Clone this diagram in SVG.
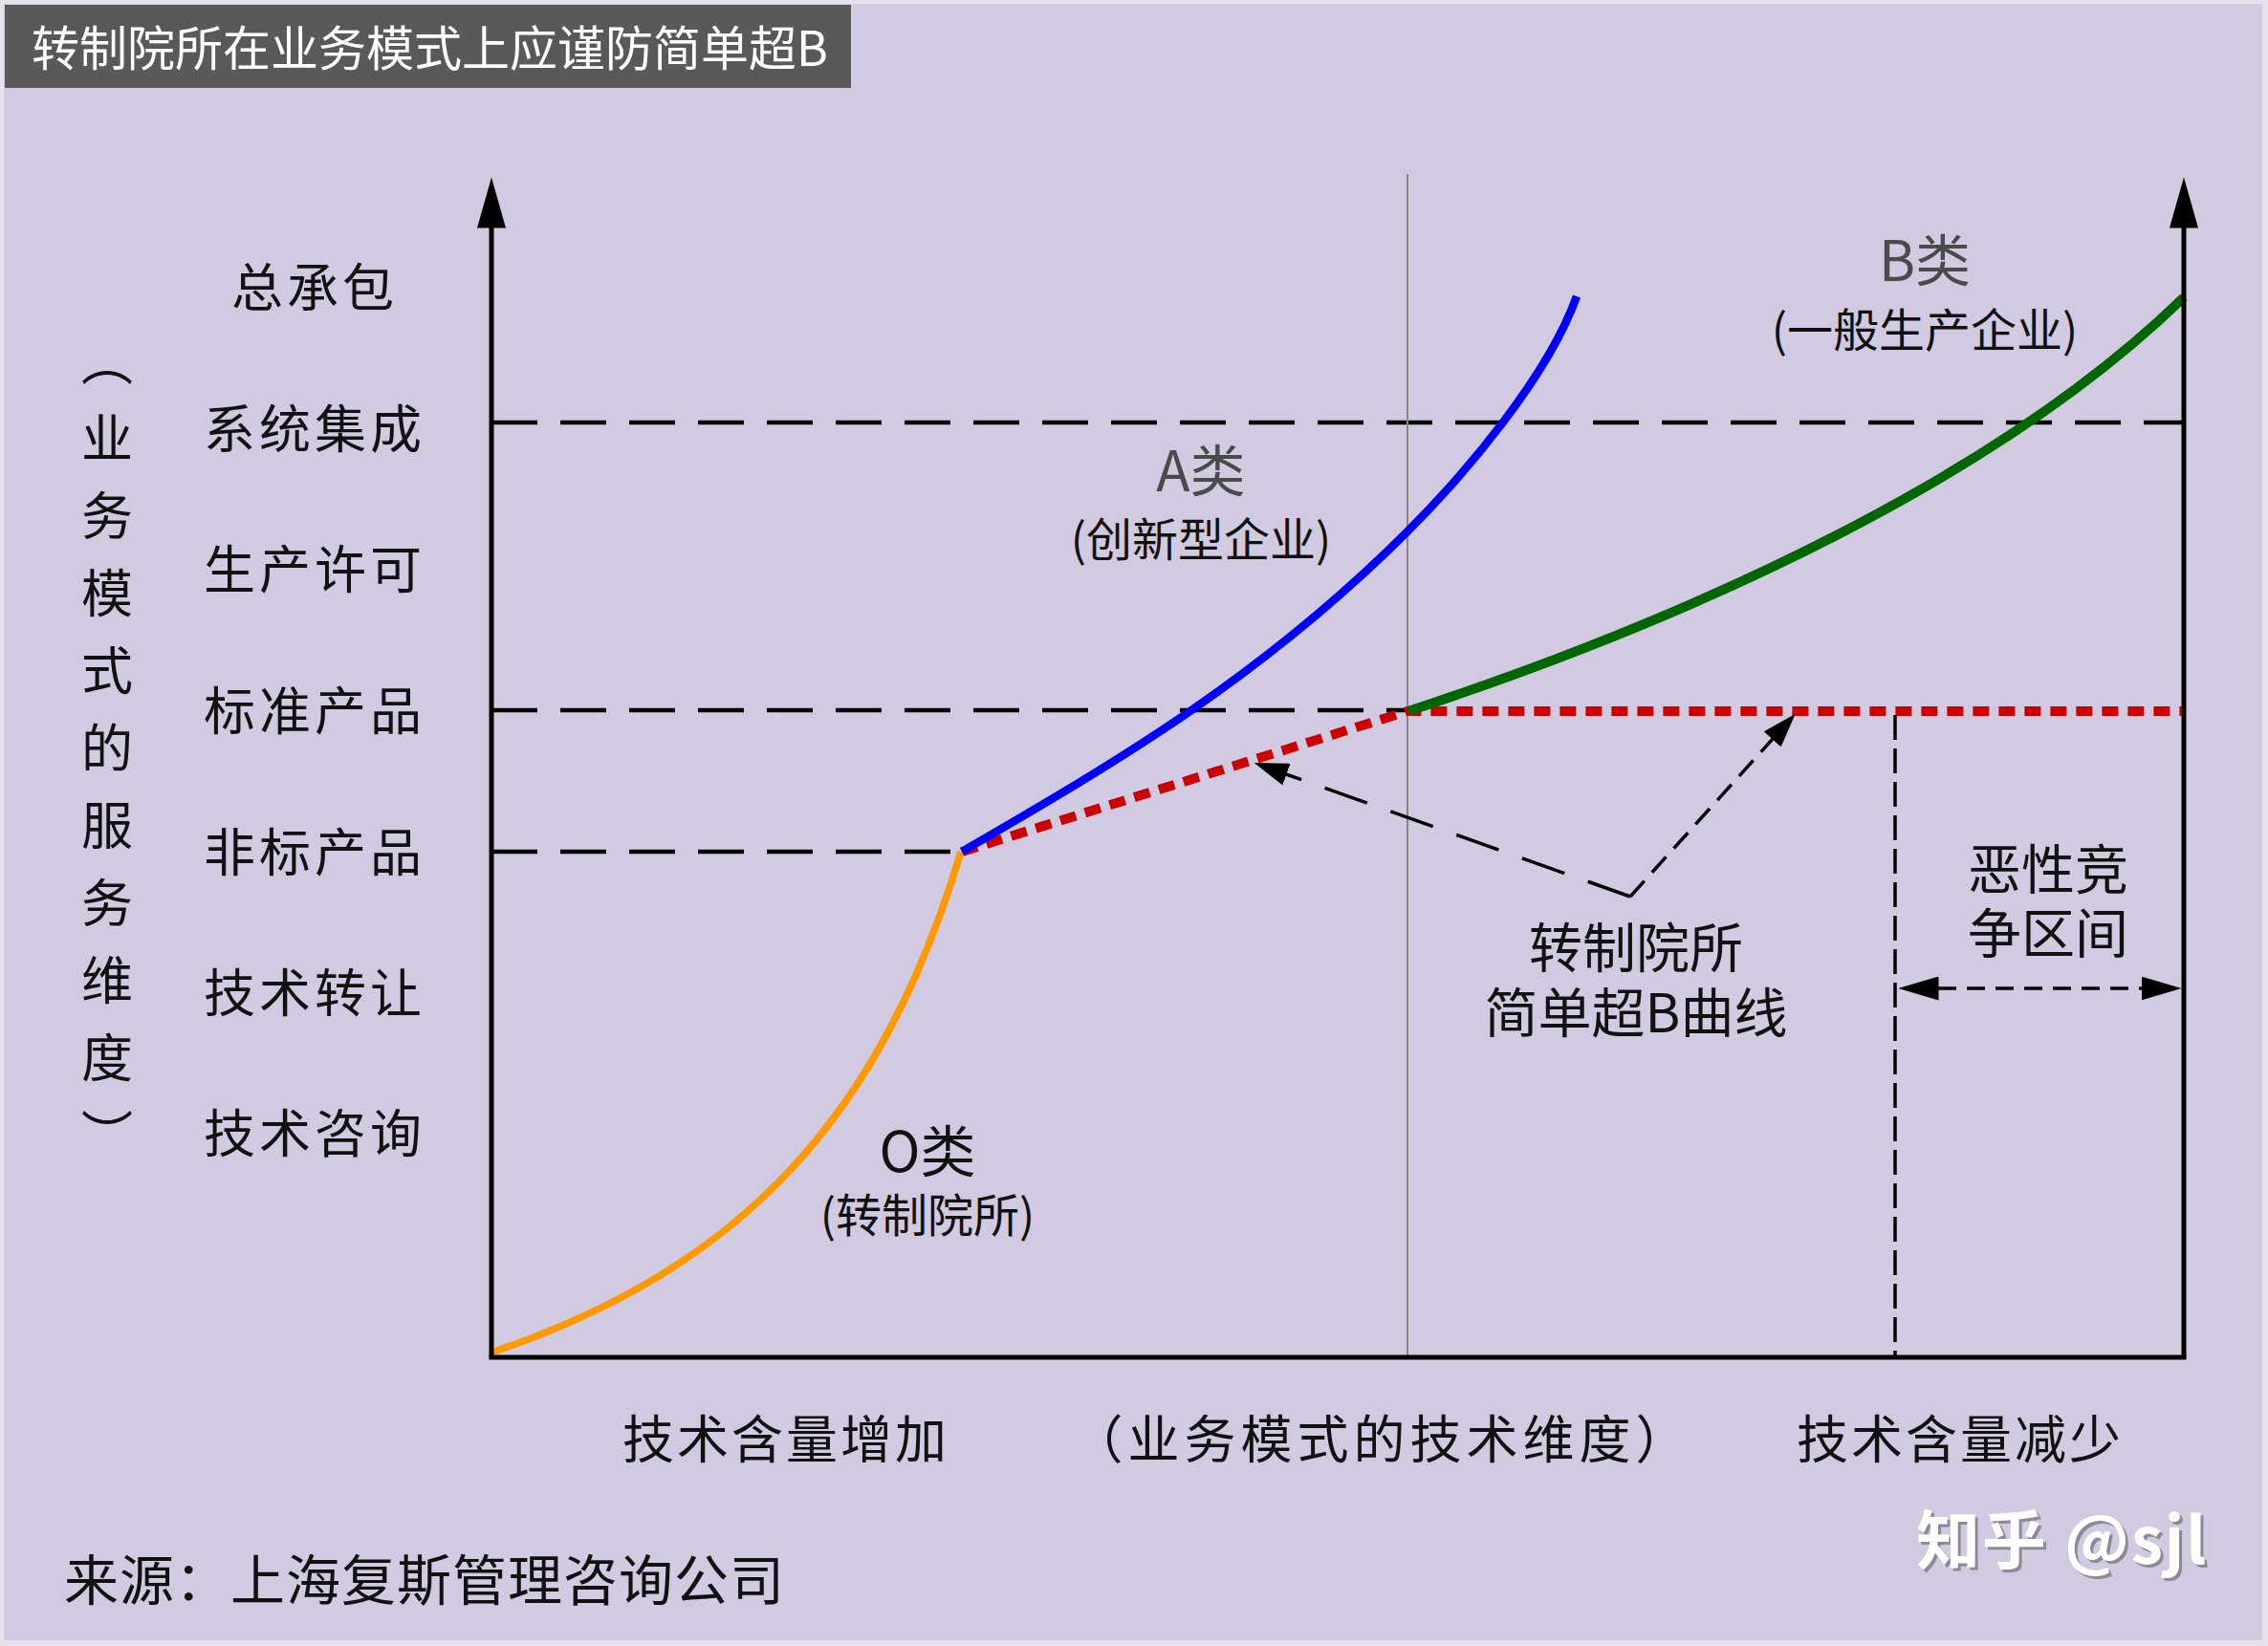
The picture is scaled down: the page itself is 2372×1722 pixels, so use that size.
<svg xmlns="http://www.w3.org/2000/svg" width="2372" height="1722" viewBox="0 0 2372 1722">
<defs>
<style>
text{font-family:"Noto Sans CJK SC","Noto Sans",sans-serif;}
.ylab{font-size:54px;fill:#111;text-anchor:middle;letter-spacing:4px}
.xlab{font-size:54px;fill:#111;text-anchor:middle;letter-spacing:3px}
.cat{font-size:58px;fill:#4a4a4a;text-anchor:middle}
.sub{font-size:48px;fill:#111;text-anchor:middle}
.note{font-size:56px;fill:#111;text-anchor:middle}
.axis{stroke:#000;stroke-width:5;fill:none}
.grid{stroke:#000;stroke-width:4.5;stroke-dasharray:48 24;fill:none}
.curve{fill:none;stroke-linecap:butt}
.ann{stroke:#000;stroke-width:3.5;fill:none}
</style>
<marker id="axArrow" viewBox="0 0 53 30" refX="0.5" refY="15" markerWidth="53" markerHeight="30" markerUnits="userSpaceOnUse" orient="auto">
<path d="M0,0 L53,15 L0,30 Z" fill="#000"/>
</marker>
<marker id="annArrow" viewBox="0 0 36 24" refX="0.5" refY="12" markerWidth="36" markerHeight="24" markerUnits="userSpaceOnUse" orient="auto">
<path d="M0,0 L36,12 L0,24 Z" fill="#000"/>
</marker>
<marker id="dblArrow" viewBox="0 0 42 25" refX="0.5" refY="12.5" markerWidth="42" markerHeight="25" markerUnits="userSpaceOnUse" orient="auto-start-reverse">
<path d="M0,0 L42,12.5 L0,25 Z" fill="#000"/>
</marker>
</defs>

<rect x="0" y="0" width="2372" height="1722" fill="#E6E1EC"/>
<rect x="4" y="4" width="2362" height="1712" fill="#D2CAE0"/>

<g id="title">
<rect x="5" y="5" width="885" height="87" fill="#595959"/>
<text x="33" y="69" font-size="50" fill="#fff">转制院所在业务模式上应谨防简单超B</text>
</g>

<g id="connectors">
<line class="grid" x1="514" y1="442" x2="2284" y2="442"/>
<line class="grid" x1="514" y1="743" x2="1472" y2="743"/>
<line class="grid" x1="514" y1="891" x2="1006" y2="891"/>
<line x1="1472" y1="182" x2="1472" y2="1419" stroke="#868686" stroke-width="2"/>
<line x1="1982" y1="748" x2="1982" y2="1418" stroke="#000" stroke-width="3.5" stroke-dasharray="26 9"/>
<polyline class="curve" points="1006,891 1472,744 2284,744" stroke="#CC0000" stroke-width="10" stroke-dasharray="17 10"/>
<path id="curveO" class="curve" d="M514,1415 C774,1327 921,1171 1005,891" stroke="#FF9900" stroke-width="7.5"/>
<path id="curveA" class="curve" d="M1006,891 C1161,801 1317,711 1472,556 C1532,496 1619,394 1649,310" stroke="#0000FF" stroke-width="8.5"/>
<path id="curveB" class="curve" d="M1473,744 C1773,645 2090,500 2284,311" stroke="#006600" stroke-width="10"/>
<line class="axis" x1="514" y1="1420" x2="514" y2="238" marker-end="url(#axArrow)"/>
<line class="axis" x1="2284" y1="1420" x2="2284" y2="238" marker-end="url(#axArrow)"/>
<line class="axis" x1="511.5" y1="1420" x2="2286.5" y2="1420"/>
<line class="ann" x1="1705" y1="938" x2="1345" y2="810" stroke-dasharray="47 26" marker-end="url(#annArrow)"/>
<line class="ann" x1="1705" y1="938" x2="1854" y2="773" stroke-dasharray="22 12" marker-end="url(#annArrow)"/>
<line class="ann" x1="2027" y1="1034" x2="2240" y2="1034" stroke-dasharray="19 11" marker-start="url(#dblArrow)" marker-end="url(#dblArrow)"/>
</g>

<g id="y-axis-title">
<text x="112" y="350" font-size="54" fill="#111" writing-mode="vertical-rl" letter-spacing="27">（业务模式的服务维度）</text>
</g>

<g id="y-labels">
<text class="ylab" x="329" y="321">总承包</text>
<text class="ylab" x="329" y="469">系统集成</text>
<text class="ylab" x="329" y="616">生产许可</text>
<text class="ylab" x="329" y="764">标准产品</text>
<text class="ylab" x="329" y="912">非标产品</text>
<text class="ylab" x="329" y="1059">技术转让</text>
<text class="ylab" x="329" y="1206">技术咨询</text>
</g>

<g id="node-A">
<text class="cat" x="1256" y="514">A类</text>
<text class="sub" x="1256" y="582">(创新型企业)</text>
</g>

<g id="node-B">
<text class="cat" x="2013" y="294">B类</text>
<text class="sub" x="2013" y="363">(一般生产企业)</text>
</g>

<g id="node-O">
<text class="cat" x="970" y="1226" style="fill:#111">O类</text>
<text class="sub" x="970" y="1289">(转制院所)</text>
</g>

<g id="note-curve">
<text class="note" x="1711" y="1012">转制院所</text>
<text class="note" x="1711" y="1080">简单超B曲线</text>
</g>

<g id="note-competition">
<text class="note" x="2142" y="930">恶性竞</text>
<text class="note" x="2142" y="997">争区间</text>
</g>

<g id="x-labels">
<text class="xlab" x="822" y="1526">技术含量增加</text>
<text class="xlab" x="1445" y="1526" style="letter-spacing:5px">（业务模式的技术维度）</text>
<text class="xlab" x="2050" y="1526">技术含量减少</text>
</g>

<g id="source">
<text x="67" y="1674" font-size="57" fill="#111" letter-spacing="1">来源：上海复斯管理咨询公司</text>
</g>

<g id="watermark">
<text x="2007" y="1639" font-size="67" font-weight="bold" fill="#8d8a96" letter-spacing="2">知乎 @sjl</text>
<text x="2004" y="1636" font-size="67" font-weight="bold" fill="#ffffff" letter-spacing="2">知乎 @sjl</text>
</g>
</svg>
